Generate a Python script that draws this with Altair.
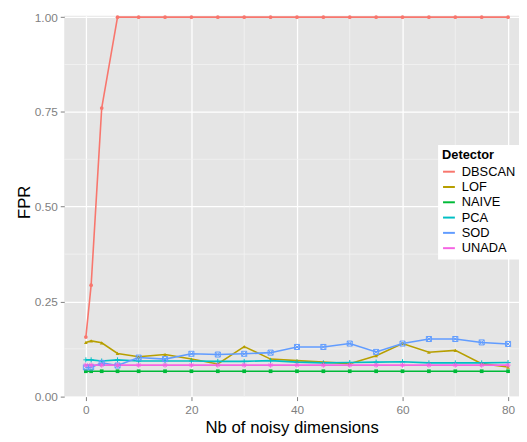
import altair as alt
import pandas as pd

x_vals = [0, 1, 3, 6, 10, 15, 20, 25, 30, 35, 40, 45, 50, 55, 60, 65, 70, 75, 80]
detectors = ["DBSCAN", "LOF", "NAIVE", "PCA", "SOD", "UNADA"]
colors = ["#F8766D", "#B79F00", "#00BA38", "#00BFC4", "#619CFF", "#F564E3"]
shapes = [
    "circle",
    "triangle-up",
    "square",
    "M-1,0H1M0,-1V1",
    "M-1,-1H1V1H-1ZM-1,-1L1,1M-1,1L1,-1",
    "M-1,0H1M0,-1V1M-0.7,-0.7L0.7,0.7M-0.7,0.7L0.7,-0.7",
]
filled_flags = [True, True, True, False, False, False]

dbscan = [0.156, 0.293, 0.760, 1.0, 1.0, 1.0, 1.0, 1.0, 1.0, 1.0, 1.0, 1.0, 1.0, 1.0, 1.0, 1.0, 1.0, 1.0, 1.0]
lof = [0.142, 0.146, 0.141, 0.113, 0.104, 0.110, 0.098, 0.085, 0.131, 0.098, 0.094, 0.090, 0.086, 0.107, 0.139, 0.116, 0.121, 0.086, 0.077]
naive = [0.066, 0.066, 0.066, 0.066, 0.066, 0.066, 0.066, 0.066, 0.066, 0.066, 0.066, 0.066, 0.066, 0.066, 0.066, 0.066, 0.066, 0.066, 0.066]
pca = [0.096, 0.096, 0.093, 0.096, 0.093, 0.093, 0.093, 0.092, 0.092, 0.094, 0.090, 0.088, 0.089, 0.090, 0.091, 0.088, 0.088, 0.088, 0.089]
sod = [0.076, 0.076, 0.088, 0.081, 0.102, 0.098, 0.112, 0.110, 0.112, 0.115, 0.130, 0.130, 0.139, 0.117, 0.139, 0.151, 0.151, 0.142, 0.138]
unada = [0.082, 0.082, 0.082, 0.082, 0.082, 0.082, 0.082, 0.082, 0.082, 0.082, 0.082, 0.082, 0.082, 0.082, 0.082, 0.082, 0.082, 0.082, 0.082]

x_ticks = [0, 20, 40, 60, 80]
y_ticks = [0.0, 0.25, 0.5, 0.75, 1.0]
x_minor = [10, 30, 50, 70]
y_minor = [0.125, 0.375, 0.625, 0.875]

series = [dbscan, lof, naive, pca, sod, unada]
rows = []
for name, vals in zip(detectors, series):
    for xv, yv in zip(x_vals, vals):
        rows.append({"x": xv, "FPR": yv, "Detector": name})
df = pd.DataFrame(rows)

FONT = "Liberation Sans"
xscale = alt.Scale(domain=[-4.1, 82.07], nice=False, zero=False)
yscale = alt.Scale(domain=[-0.001, 1.0034], nice=False, zero=False)
cscale = alt.Scale(domain=detectors, range=colors)

minor_x = alt.Chart(pd.DataFrame({"v": x_minor})).mark_rule(
    color="#F2F2F2", strokeWidth=0.8
).encode(x=alt.X("v:Q", scale=xscale))
minor_y = alt.Chart(pd.DataFrame({"v": y_minor})).mark_rule(
    color="#F2F2F2", strokeWidth=0.8
).encode(y=alt.Y("v:Q", scale=yscale))

base = alt.Chart(df)

xenc = alt.X(
    "x:Q",
    scale=xscale,
    axis=alt.Axis(
        values=x_ticks,
        title="Nb of noisy dimensions",
        titleY=36.7,
        titleBaseline="alphabetic",
    ),
)
yenc = alt.Y(
    "FPR:Q",
    scale=yscale,
    axis=alt.Axis(
        values=y_ticks,
        format=".2f",
        title="FPR",
        titleX=-35,
        titleY=188.5,
        titleAngle=-90,
        titleAlign="center",
        titleBaseline="alphabetic",
    ),
)

lines = base.mark_line(strokeWidth=1.6).encode(
    x=xenc,
    y=yenc,
    color=alt.Color(
        "Detector:N",
        scale=cscale,
        sort=detectors,
        legend=alt.Legend(
            title="Detector",
            orient="none",
            legendX=379,
            legendY=131,
            padding=4,
            fillColor="white",
            symbolType="stroke",
            symbolSize=144,
            symbolStrokeWidth=2,
            labelOffset=6,
            rowPadding=1.5,
            titlePadding=3,
            labelFontSize=13,
            titleFontSize=13,
            titleFontWeight="bold",
            labelColor="#000000",
            titleColor="#000000",
            labelFont=FONT,
            titleFont=FONT,
        ),
    ),
    detail="Detector:N",
)

point_layers = []
for name, col, shp, filled in zip(detectors, colors, shapes, filled_flags):
    if filled:
        mk = base.mark_point(filled=True, size=14, opacity=1)
        enc = dict(fill=alt.value(col), stroke=alt.value(None))
    else:
        mk = base.mark_point(filled=False, size=26, strokeWidth=1, opacity=1)
        enc = dict(stroke=alt.value(col))
    layer = mk.encode(
        x=alt.X("x:Q", scale=xscale),
        y=alt.Y("FPR:Q", scale=yscale),
        shape=alt.value(shp),
        **enc,
    ).transform_filter(alt.datum.Detector == name)
    point_layers.append(layer)

chart = alt.layer(minor_x, minor_y, lines, *point_layers).properties(
    width=461,
    height=386,
    autosize=alt.AutoSizeParams(type="none"),
    padding={"left": 57, "top": 5, "right": 0, "bottom": 40},
).configure_view(
    fill="#E5E5E5", stroke=None
).configure_axis(
    domain=False,
    grid=True,
    gridColor="#FFFFFF",
    gridWidth=1.3,
    tickColor="#7F7F7F",
    tickSize=4,
    labelColor="#7F7F7F",
    labelFont=FONT,
    labelFontSize=12,
    labelPadding=3,
    titleFont=FONT,
    titleFontSize=17,
    titleFontWeight="normal",
    titleColor="#000000",
).configure_axisX(
    labelPadding=4,
).configure_legend(
    labelFont=FONT,
    titleFont=FONT,
)

chart.save("out.html", embed_options={"renderer": "svg", "actions": False})
